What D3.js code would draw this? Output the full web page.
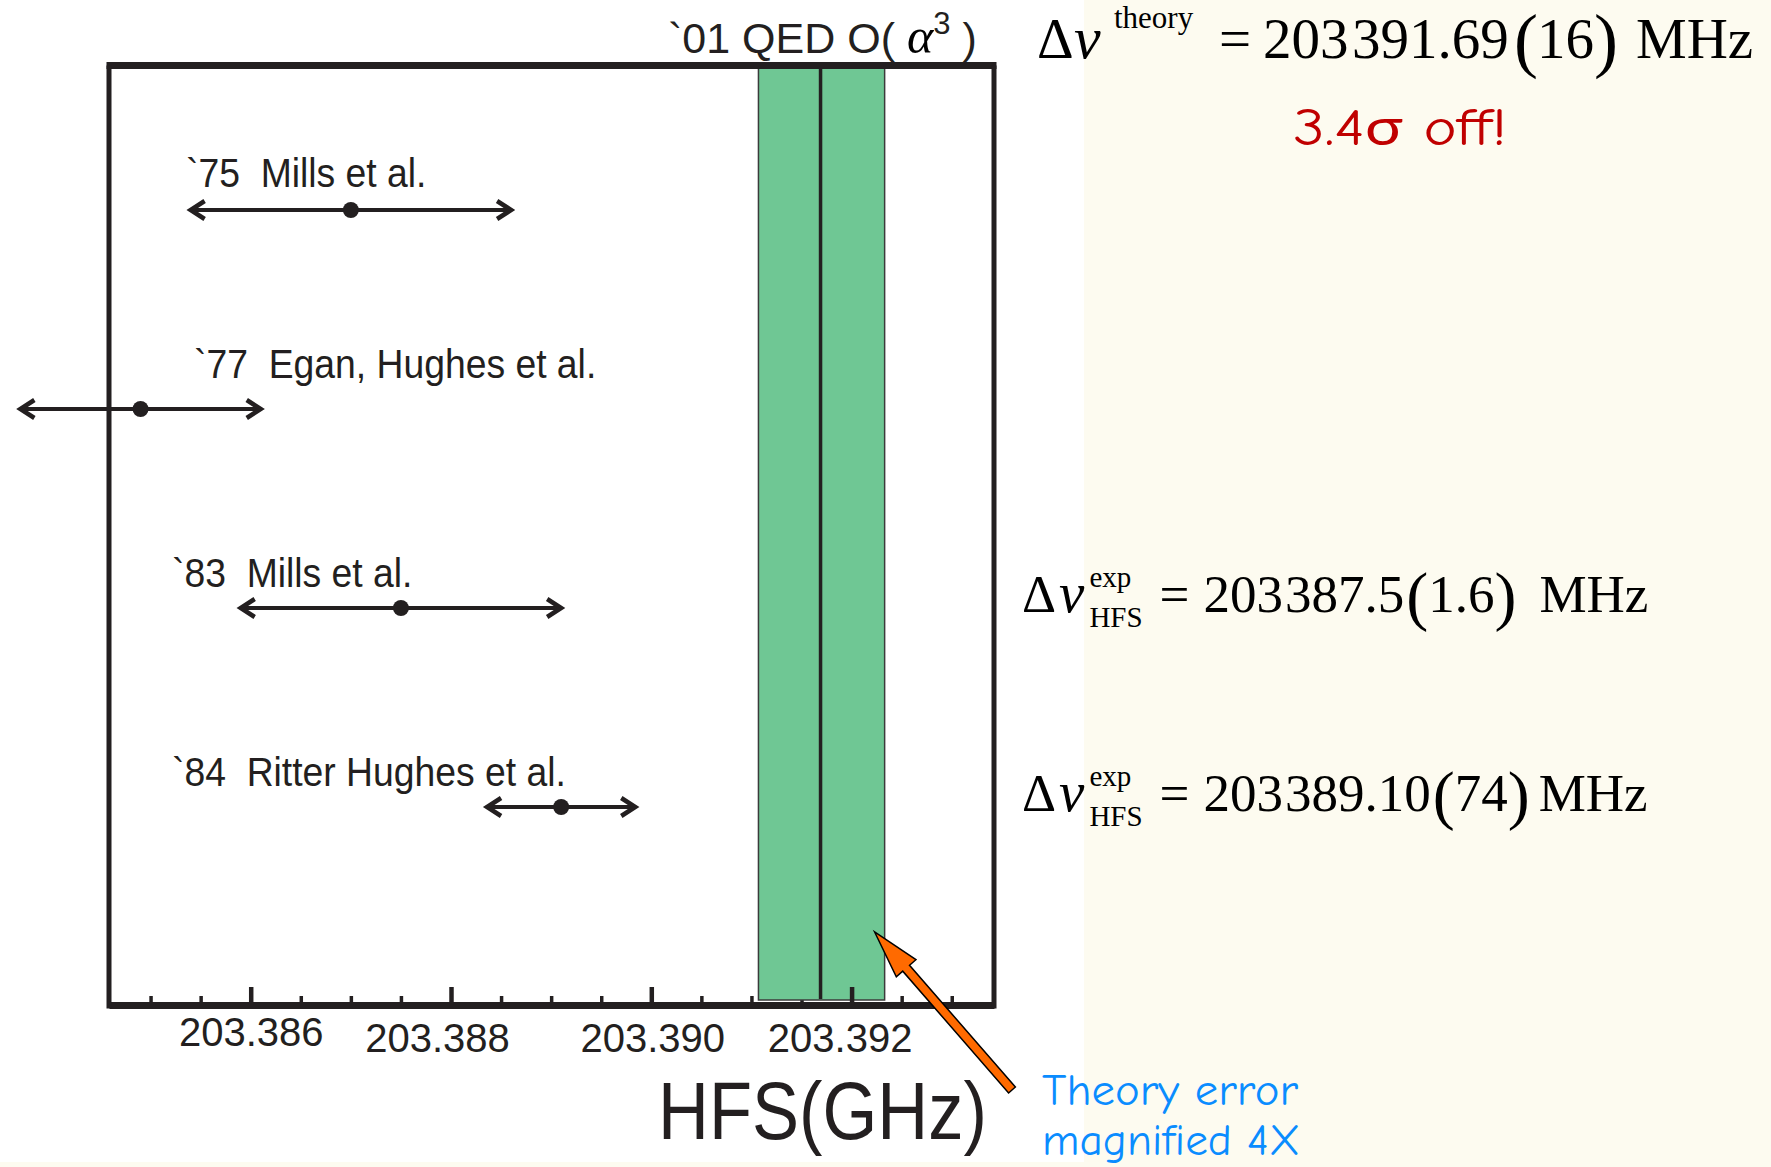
<!DOCTYPE html>
<html>
<head>
<meta charset="utf-8">
<script src="https://cdn.jsdelivr.net/npm/d3@7"></script>
<style>
  body { margin: 0; background: #fdfbf0; }
  svg { display: block; }
  .sans { font-family: "Liberation Sans", Arial, sans-serif; fill: #231f20; }
  .serif { font-family: "Liberation Serif", "Times New Roman", serif; fill: #000; }
  .hand { font-family: "Comic Sans MS", "Comic Neue", Lato, sans-serif; }
</style>
</head>
<body>
<div class="chart"></div>
<script>
// measurements of the positronium HFS (GHz)
const expLabels = ['`75  Mills et al.', '`77  Egan, Hughes et al.', '`83  Mills et al.', '`84  Ritter Hughes et al.'];
const expValues = [203.3870, 203.3849, 203.3875, 203.38910];
const expErrors = [0.0016, 0.0012, 0.0016, 0.00074];

// QED O(a^3) prediction, error drawn magnified
const theoryValue = 203.39169;
const theoryError = 0.00016;
const errorMagnify = 4;

// axis ticks
const majorTicks = [203.386, 203.388, 203.390, 203.392];
const majorTickLabels = ['203.386', '203.388', '203.390', '203.392'];
const minorTicks = [203.385, 203.3855, 203.3865, 203.387, 203.3875, 203.3885, 203.389, 203.3895,
  203.3905, 203.391, 203.3915, 203.3925, 203.393];

const width = 1771;
const height = 1167;
const frame = { left: 109, right: 994, top: 65.5, bottom: 1005 };
const ink = '#231f20';

const svg = d3.select('.chart').append('svg')
  .attr('width', width)
  .attr('height', height);

// pasted figure is white, slide behind it is cream
svg.append('rect').attr('width', 1084).attr('height', 1162).attr('fill', '#fff');

const xScale = d3.scaleLinear()
  .domain([203.384585, 203.393422])
  .range([frame.left, frame.right]);

const yScale = d3.scalePoint()
  .domain(expLabels)
  .range([210, 807]);

// minor ticks
const minorAxis = d3.axisBottom(xScale).tickValues(minorTicks).tickSizeInner(-9).tickSizeOuter(0).tickFormat('');
const minorDraw = svg.append('g').attr('transform', `translate(0,${frame.bottom})`).call(minorAxis);
minorDraw.select('.domain').remove();
minorDraw.selectAll('line').attr('stroke', ink).attr('stroke-width', 3.5);

// theory band
const bandL = xScale(theoryValue - theoryError * errorMagnify);
const bandR = xScale(theoryValue + theoryError * errorMagnify);
svg.append('rect')
  .attr('x', bandL + 2).attr('y', frame.top)
  .attr('width', bandR - bandL - 2).attr('height', frame.bottom - 5 - frame.top)
  .attr('fill', '#6fc794')
  .attr('stroke', '#3b3b3b').attr('stroke-width', 1.5);
svg.append('line')
  .attr('x1', xScale(theoryValue)).attr('x2', xScale(theoryValue))
  .attr('y1', frame.top).attr('y2', frame.bottom - 6)
  .attr('stroke', ink).attr('stroke-width', 3.5);

// major axis = bottom of frame
const xAxis = d3.axisBottom(xScale)
  .tickValues(majorTicks)
  .tickFormat((d, i) => majorTickLabels[i])
  .tickSizeInner(-18).tickSizeOuter(0).tickPadding(13);
const xAxisDraw = svg.append('g').attr('class', 'xaxis')
  .attr('transform', `translate(0,${frame.bottom})`).call(xAxis);
xAxisDraw.select('.domain').attr('stroke', ink).attr('stroke-width', 7);
xAxisDraw.selectAll('line').attr('stroke', ink).attr('stroke-width', 4.5);
const nudge = [[0, 0], [-14, 6], [1, 6], [-12, 6]];
xAxisDraw.selectAll('text')
  .attr('class', 'sans')
  .style('font-size', '40px')
  .attr('fill', '#000')
  .attr('transform', (d, i) => `translate(${nudge[i][0]},${nudge[i][1]})`);

// rest of frame
svg.append('line').attr('x1', frame.left - 2.5).attr('x2', frame.right + 2.5)
  .attr('y1', frame.top).attr('y2', frame.top).attr('stroke', ink).attr('stroke-width', 7);
[frame.left, frame.right].forEach(xx => {
  svg.append('line').attr('x1', xx).attr('x2', xx)
    .attr('y1', frame.top).attr('y2', frame.bottom + 3.5)
    .attr('stroke', ink).attr('stroke-width', 5);
});

// measurements: double arrows with a dot
const rows = expLabels.map((label, i) => ({ label, value: expValues[i], err: expErrors[i] }));
const bars = svg.selectAll('.meas').data(rows).enter().append('g').attr('class', 'meas');
bars.append('line')
  .attr('x1', d => xScale(d.value - d.err) + 2)
  .attr('x2', d => xScale(d.value + d.err) - 2)
  .attr('y1', d => yScale(d.label)).attr('y2', d => yScale(d.label))
  .attr('stroke', ink).attr('stroke-width', 4);
bars.append('path')
  .attr('d', d => {
    const l = xScale(d.value - d.err), r = xScale(d.value + d.err), y = yScale(d.label);
    return `M${l + 14},${y - 9}L${l},${y}L${l + 14},${y + 9}M${r - 14},${y - 9}L${r},${y}L${r - 14},${y + 9}`;
  })
  .attr('fill', 'none').attr('stroke', ink).attr('stroke-width', 4.5);
bars.append('circle')
  .attr('cx', d => xScale(d.value)).attr('cy', d => yScale(d.label))
  .attr('r', 8).attr('fill', ink);

const labelDx = [77, 85, 63, 63];
const labelDy = [-23, -31, -21, -21];
bars.append('text')
  .attr('class', 'sans')
  .attr('transform', (d, i) => `translate(${frame.left + labelDx[i]},${yScale(d.label) + labelDy[i]}) scale(0.91,1)`)
  .style('font-size', '41px')
  .style('white-space', 'pre')
  .text(d => d.label);

// theory title above the frame
const title = svg.append('text').attr('class', 'sans')
  .attr('x', 668).attr('y', 53).style('font-size', '43px').style('white-space', 'pre');
title.append('tspan').text('`01 QED O( ');
title.append('tspan').attr('class', 'serif').style('font-style', 'italic').style('font-size', '50px').attr('fill', ink).text('α');
title.append('tspan').style('font-size', '31px').attr('dy', -19).text('3');
title.append('tspan').attr('dy', 19).text(' )');

// x axis title
svg.append('text').attr('class', 'sans')
  .attr('x', 658).attr('y', 1139)
  .attr('textLength', 329).attr('lengthAdjust', 'spacingAndGlyphs')
  .style('font-size', '82px')
  .text('HFS(GHz)');

// formulas on the right
function formula(pieces) {
  pieces.forEach(p => {
    svg.append('text').attr('class', 'serif')
      .attr('x', p.x).attr('y', p.y)
      .style('font-size', p.fs + 'px')
      .style('font-style', p.it ? 'italic' : 'normal')
      .text(p.t);
  });
}
formula([
  { t: 'Δ', x: 1037, y: 58, fs: 57 },
  { t: 'ν', x: 1074, y: 58, fs: 60, it: true },
  { t: 'theory', x: 1114, y: 28, fs: 31 },
  { t: '=', x: 1219, y: 58, fs: 57 },
  { t: '203', x: 1263, y: 58, fs: 57 },
  { t: '391.69', x: 1352, y: 58, fs: 57 },
  { t: '(', x: 1514, y: 64, fs: 72 },
  { t: '16', x: 1537, y: 58, fs: 57 },
  { t: ')', x: 1594, y: 64, fs: 72 },
  { t: 'MHz', x: 1636, y: 58, fs: 57 }
]);

// sequential layout: each piece starts where the previous one ended (+ gap)
function mathRow(x0, y, pieces) {
  let cx = x0;
  pieces.forEach(p => {
    cx += p.gap || 0;
    const parts = p.stack || [p];
    let w = 0;
    parts.forEach(s => {
      const t = svg.append('text').attr('class', 'serif')
        .attr('x', cx).attr('y', y + (s.dy || 0))
        .style('font-size', s.fs + 'px')
        .style('font-style', s.it ? 'italic' : 'normal')
        .text(s.t);
      w = Math.max(w, t.node().getComputedTextLength());
    });
    cx += w;
  });
}
[
  { y: 612, main: ['203', '387.5'], par: '1.6', gapM: 23 },
  { y: 811, main: ['203', '389.10'], par: '74', gapM: 9 }
].forEach(f => {
  mathRow(1022, f.y, [
    { t: 'Δ', fs: 53 },
    { t: 'ν', fs: 57, it: true, gap: 3 },
    { gap: 5, stack: [{ t: 'exp', fs: 29, dy: -25 }, { t: 'HFS', fs: 29, dy: 15 }] },
    { t: '=', fs: 53, gap: 17 },
    { t: f.main[0], fs: 53, gap: 14 },
    { t: f.main[1], fs: 53, gap: 2 },
    { t: '(', fs: 66, dy: 6, gap: 2 },
    { t: f.par, fs: 53 },
    { t: ')', fs: 66, dy: 6 },
    { t: 'MHz', fs: 53, gap: f.gapM }
  ]);
});

svg.append('text').attr('class', 'hand')
  .attr('x', 1293).attr('y', 145)
  .attr('textLength', 214).attr('lengthAdjust', 'spacingAndGlyphs')
  .style('font-size', '53px').attr('fill', '#c00000')
  .text('3.4σ off!');

// annotation arrow and note
const tail = [1012, 1090];
const tip = [bandR - 10, 932];
const len = Math.hypot(tip[0] - tail[0], tip[1] - tail[1]);
const ux = (tip[0] - tail[0]) / len, uy = (tip[1] - tail[1]) / len;
const nx = -uy, ny = ux;
const headLen = 48, headW = 13, shaftW = 4.5;
const bx = tip[0] - ux * headLen, by = tip[1] - uy * headLen;
const pts = [
  [tail[0] + nx * shaftW, tail[1] + ny * shaftW],
  [bx + nx * shaftW, by + ny * shaftW],
  [bx + nx * headW, by + ny * headW],
  tip,
  [bx - nx * headW, by - ny * headW],
  [bx - nx * shaftW, by - ny * shaftW],
  [tail[0] - nx * shaftW, tail[1] - ny * shaftW]
];
svg.append('path')
  .attr('d', d3.line()(pts) + 'Z')
  .attr('fill', '#ff6a00').attr('stroke', '#000').attr('stroke-width', 1.5);

const note = svg.append('g').attr('class', 'hand').attr('fill', '#0a8cff').style('font-size', '44px');
note.append('text').attr('x', 1042).attr('y', 1105)
  .attr('textLength', 256).attr('lengthAdjust', 'spacingAndGlyphs').text('Theory error');
note.append('text').attr('x', 1042).attr('y', 1155)
  .attr('textLength', 258).attr('lengthAdjust', 'spacingAndGlyphs').text('magnified 4X');
</script>
</body>
</html>
